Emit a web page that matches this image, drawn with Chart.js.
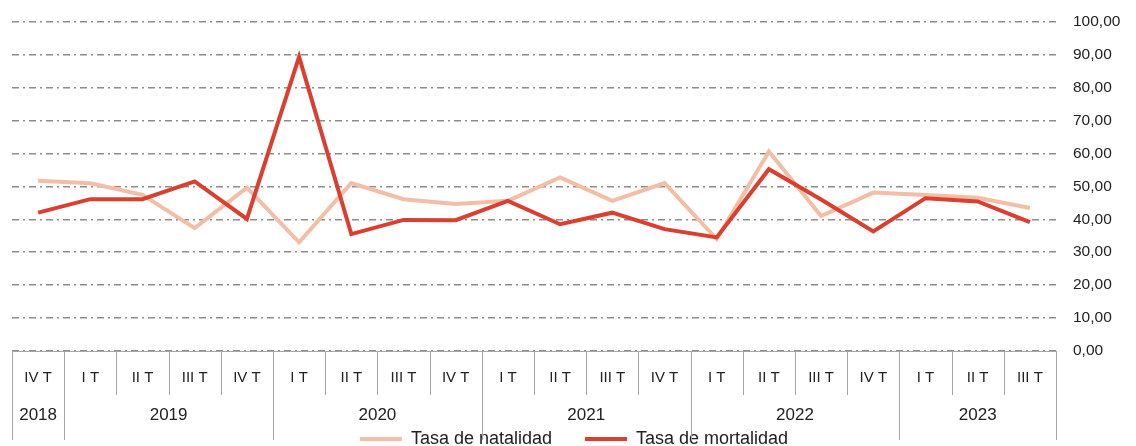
<!DOCTYPE html>
<html>
<head>
<meta charset="utf-8">
<script src="https://cdn.jsdelivr.net/npm/chart.js@4"></script>
<style>
  html, body { margin: 0; padding: 0; background: #fff; }
  #wrap { width: 1136px; height: 446px; position: relative; }
</style>
</head>
<body>
<div id="wrap"><canvas id="chart"></canvas></div>
<script>
// Quarterly labels (IV T 2018 .. III T 2023)
const QUARTERS = ['IV T', 'I T', 'II T', 'III T', 'IV T', 'I T', 'II T', 'III T', 'IV T',
  'I T', 'II T', 'III T', 'IV T', 'I T', 'II T', 'III T', 'IV T', 'I T', 'II T', 'III T'];
const YEARS = ['2018', '2019', '2020', '2021', '2022', '2023'];
const YEAR_SPANS = [1, 4, 4, 4, 4, 3];

const NATALIDAD = [51.7, 50.9, 47.4, 37.3, 49.6, 33.0, 51.0, 46.1, 44.6, 45.6,
  52.7, 45.6, 51.0, 34.0, 60.6, 41.0, 48.1, 47.4, 46.5, 43.4];
const MORTALIDAD = [42.0, 46.1, 46.1, 51.5, 40.1, 89.3, 35.5, 39.8, 39.7, 45.6,
  38.5, 42.0, 37.0, 34.5, 55.2, 46.0, 36.3, 46.4, 45.4, 39.1];

const Y_MIN = 0, Y_MAX = 100, Y_STEP = 10;

const COLORS = {
  natalidad: '#F4BDA6',
  mortalidad: '#DA3F2F',
  grid: '#8c8c8c',
  axis: '#a6a6a6',
  text: '#222222',
};

const FONT = "'Liberation Sans', Arial, sans-serif";

// "40" -> "40,00"
function esNum(v) { return Number(v).toFixed(2).replace('.', ','); }

// Excel-style grouped category axis: quarter cells + year cells below
const groupedAxis = {
  id: 'groupedAxis',
  afterDraw(chart) {
    const x = chart.scales.x;
    const ctx = chart.ctx;
    const top = chart.chartArea.bottom;
    const half = (x.getPixelForValue(1) - x.getPixelForValue(0)) / 2;
    const qBottom = 395, yBottom = 440;

    ctx.save();
    ctx.strokeStyle = COLORS.axis;
    ctx.lineWidth = 1;

    // year boundaries
    const yearEdges = [0];
    YEAR_SPANS.forEach(n => yearEdges.push(yearEdges[yearEdges.length - 1] + n));

    for (let i = 0; i <= QUARTERS.length; i++) {
      const px = Math.round(x.getPixelForValue(i) - half) + 0.5;
      const isYear = yearEdges.includes(i);
      ctx.beginPath();
      ctx.moveTo(px, top);
      ctx.lineTo(px, isYear ? yBottom : qBottom);
      ctx.stroke();
    }

    ctx.fillStyle = COLORS.text;
    ctx.font = '17px ' + FONT;
    ctx.textAlign = 'center';
    ctx.textBaseline = 'middle';
    YEARS.forEach((yr, k) => {
      const a = x.getPixelForValue(yearEdges[k]) - half;
      const b = x.getPixelForValue(yearEdges[k + 1]) - half;
      ctx.fillText(yr, (a + b) / 2, 415);
    });
    ctx.restore();
  },
};

new Chart(document.getElementById('chart'), {
  type: 'line',
  data: {
    labels: QUARTERS,
    datasets: [
      {
        label: 'Tasa de natalidad', data: NATALIDAD, order: 1,
        borderColor: COLORS.natalidad, backgroundColor: COLORS.natalidad,
        borderWidth: 4, pointRadius: 0, tension: 0,
      },
      {
        label: 'Tasa de mortalidad', data: MORTALIDAD, order: 0,
        borderColor: COLORS.mortalidad, backgroundColor: COLORS.mortalidad,
        borderWidth: 4, pointRadius: 0, tension: 0,
      },
    ],
  },
  options: {
    responsive: true, maintainAspectRatio: false, animation: false,
    layout: { padding: { top: 18, left: 12, right: 0, bottom: -12 } },
    plugins: {
      tooltip: { enabled: false },
      legend: {
        position: 'bottom',
        labels: {
          sort: (a, b) => a.datasetIndex - b.datasetIndex,
          // thin line swatches: no stroke round the legend box
          generateLabels: (chart) => Chart.defaults.plugins.legend.labels.generateLabels(chart)
            .map(item => ({ ...item, lineWidth: 0 })),
          color: COLORS.text, font: { family: FONT, size: 18 },
          boxWidth: 42, boxHeight: 4, padding: 33,
        },
      },
    },
    scales: {
      x: {
        offset: true,
        grid: { display: false, drawTicks: false },
        border: { display: true, color: COLORS.axis, width: 1 },
        ticks: {
          color: COLORS.text, font: { family: FONT, size: 15 },
          padding: 18, maxRotation: 0, autoSkip: false,
        },
        afterFit: (s) => { s.height = 46; },
      },
      y: {
        position: 'right',
        min: Y_MIN, max: Y_MAX,
        grid: { color: COLORS.grid, lineWidth: 1.5, drawTicks: false },
        border: { display: false, dash: [7, 4, 2, 4] },
        ticks: {
          stepSize: Y_STEP, color: COLORS.text, padding: 17,
          font: { family: FONT, size: 15.5, lineHeight: 0.6 },
          callback: (v) => esNum(v),
        },
        afterFit: (s) => { s.width = 80; },
      },
    },
  },
  plugins: [groupedAxis],
});
</script>
</body>
</html>
